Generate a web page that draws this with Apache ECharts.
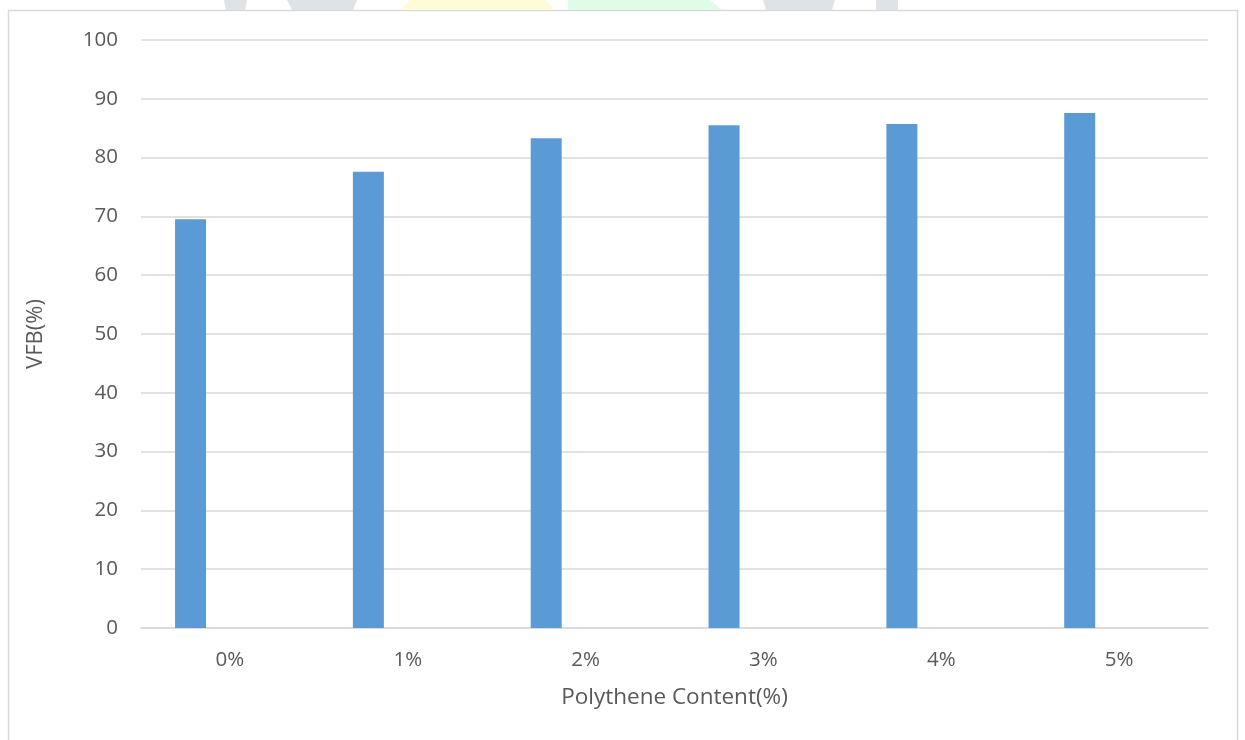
<!DOCTYPE html>
<html>
<head>
<meta charset="utf-8">
<script src="https://cdn.jsdelivr.net/npm/echarts@6/dist/echarts.min.js"></script>
<style>
html,body{margin:0;padding:0;background:#fff;}
#c{width:1245px;height:740px;}
</style>
</head>
<body>
<div id="c"></div>
<script>
const categories = ['0%', '1%', '2%', '3%', '4%', '5%'];
const vfbValues = [69.5, 77.6, 83.3, 85.5, 85.7, 87.6];
const emptyValues = [null, null, null, null, null, null];
const yTicks = {min: 0, max: 100, interval: 10};
const xTitle = 'Polythene Content(%)';
const yTitle = 'VFB(%)';

const FONT = '"Open Sans", sans-serif';
const TXT = '#595959';
const chart = echarts.init(document.getElementById('c'));
chart.setOption({
  animation: false,
  backgroundColor: '#ffffff',
  graphic: [
    {type: 'rect', shape: {x: 8.5, y: 10.5, width: 1229, height: 740}, style: {fill: 'none', stroke: '#d9d9d9', lineWidth: 1.5}, z: 0},
    {type: 'polygon', shape: {points: [[224,0],[247,0],[245,10],[226,10]]}, style: {fill: '#dde3e6'}},
    {type: 'polygon', shape: {points: [[287,0],[357,0],[353,10],[292,10]]}, style: {fill: '#dde3e6'}},
    {type: 'polygon', shape: {points: [[410,0],[545,0],[555,10],[400,10]]}, style: {fill: '#fefcd8'}},
    {type: 'polygon', shape: {points: [[568,0],[710,0],[722,10],[568,10]]}, style: {fill: '#e0fbe8'}},
    {type: 'polygon', shape: {points: [[763,0],[835,0],[832,10],[766,10]]}, style: {fill: '#dde3e6'}},
    {type: 'polygon', shape: {points: [[876,0],[898,0],[898,10],[876,10]]}, style: {fill: '#dde3e6'}}
  ],
  grid: {left: 141, right: 37, top: 40, bottom: 112, containLabel: false},
  xAxis: {
    type: 'category',
    data: categories,
    name: xTitle,
    nameLocation: 'middle',
    nameGap: 58,
    nameTextStyle: {fontFamily: FONT, fontSize: 22.5, color: TXT},
    axisLine: {show: true, lineStyle: {color: '#d9d9d9', width: 1.5}},
    axisTick: {show: false},
    axisLabel: {fontFamily: FONT, fontSize: 20.5, color: TXT, margin: 22}
  },
  yAxis: {
    type: 'value',
    min: yTicks.min,
    max: yTicks.max,
    interval: yTicks.interval,
    name: yTitle,
    nameLocation: 'middle',
    nameRotate: 90,
    nameGap: 94,
    nameTextStyle: {fontFamily: FONT, fontSize: 22, color: TXT},
    axisLine: {show: false},
    axisTick: {show: false},
    axisLabel: {fontFamily: FONT, fontSize: 20.5, color: TXT, margin: 23},
    splitLine: {lineStyle: {color: '#d9d9d9', width: 1.5}}
  },
  series: [
    {type: 'bar', data: vfbValues, barWidth: 31, barGap: '154%', itemStyle: {color: '#5b9bd5'}},
    {type: 'bar', data: emptyValues, barWidth: 31, itemStyle: {color: '#ed7d31'}}
  ]
});
</script>
</body>
</html>
